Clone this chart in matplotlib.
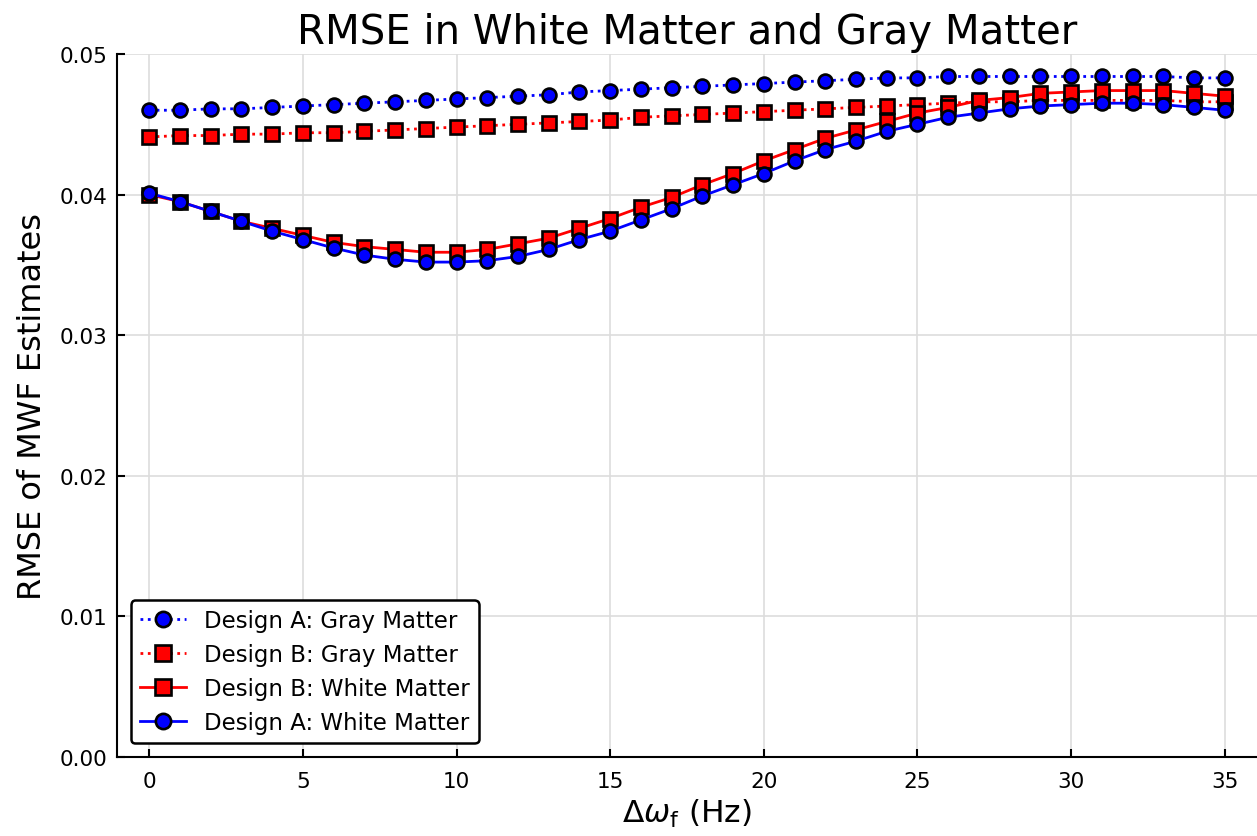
import numpy as np
import matplotlib
matplotlib.use("Agg")
import matplotlib.pyplot as plt

plt.rcParams['font.family'] = ['DejaVu Sans']
plt.rcParams['mathtext.fontset'] = 'dejavusans'

# frekans kaymasi (Hz)
delta_f = list(range(0, 36))

a_gray = [0.0460, 0.0460, 0.0461, 0.0461, 0.0462, 0.0463, 0.0464, 0.0465, 0.0466, 0.0467,
          0.0468, 0.0469, 0.0470, 0.0471, 0.0473, 0.0474, 0.0475, 0.0476, 0.0477, 0.0478,
          0.0479, 0.0480, 0.0481, 0.0482, 0.0483, 0.0483, 0.0484, 0.0484, 0.0484, 0.0484,
          0.0484, 0.0484, 0.0484, 0.0484, 0.0483, 0.0483]
b_gray = [0.0441, 0.0442, 0.0442, 0.0443, 0.0443, 0.0444, 0.0444, 0.0445, 0.0446, 0.0447,
          0.0448, 0.0449, 0.0450, 0.0451, 0.0452, 0.0453, 0.0455, 0.0456, 0.0457, 0.0458,
          0.0459, 0.0460, 0.0461, 0.0462, 0.0463, 0.0464, 0.0465, 0.0466, 0.0466, 0.0467,
          0.0467, 0.0467, 0.0467, 0.0467, 0.0466, 0.0466]
b_white = [0.0400, 0.0395, 0.0388, 0.0381, 0.0376, 0.0371, 0.0366, 0.0363, 0.0361, 0.0359,
           0.0359, 0.0361, 0.0365, 0.0369, 0.0376, 0.0383, 0.0391, 0.0398, 0.0407, 0.0415,
           0.0424, 0.0432, 0.0440, 0.0446, 0.0452, 0.0458, 0.0462, 0.0467, 0.0469, 0.0472,
           0.0473, 0.0474, 0.0474, 0.0474, 0.0472, 0.0470]
a_white = [0.0401, 0.0395, 0.0388, 0.0381, 0.0374, 0.0368, 0.0362, 0.0357, 0.0354, 0.0352,
           0.0352, 0.0353, 0.0356, 0.0361, 0.0368, 0.0374, 0.0382, 0.0390, 0.0399, 0.0407,
           0.0415, 0.0424, 0.0432, 0.0438, 0.0445, 0.0450, 0.0455, 0.0458, 0.0461, 0.0463,
           0.0464, 0.0465, 0.0465, 0.0464, 0.0462, 0.0460]

fig = plt.figure(figsize=(12.57, 8.37), dpi=100)
ax = fig.add_axes([117 / 1257, 1 - 758 / 837, (1257 - 117) / 1257, (758 - 55) / 837])

common = dict(markersize=10, markeredgecolor='black', markeredgewidth=1.9, linewidth=2)
ax.plot(delta_f, a_gray, color='blue', linestyle=':', marker='o', label='Design A: Gray Matter', **common)
ax.plot(delta_f, b_gray, color='red', linestyle=':', marker='s', label='Design B: Gray Matter', **common)
ax.plot(delta_f, b_white, color='red', linestyle='-', marker='s', label='Design B: White Matter', **common)
ax.plot(delta_f, a_white, color='blue', linestyle='-', marker='o', label='Design A: White Matter', **common)

ax.set_xlim(-1.05, 36.05)
ax.set_ylim(0, 0.05)
ax.set_xticks([0, 5, 10, 15, 20, 25, 30, 35])
ax.set_yticks([0.00, 0.01, 0.02, 0.03, 0.04, 0.05])
ax.set_yticklabels(['0.00', '0.01', '0.02', '0.03', '0.04', '0.05'])
ax.grid(True, color='#dddddd', linewidth=1.2)
ax.set_axisbelow(True)
for s in ['top', 'right']:
    ax.spines[s].set_visible(False)
for s in ['left', 'bottom']:
    ax.spines[s].set_linewidth(1.5)
ax.tick_params(direction='in', length=6, width=1.5, labelsize=15.5, pad=7)
ax.tick_params(axis='x', pad=10)

ax.set_title('RMSE in White Matter and Gray Matter', fontsize=29, pad=8)
ax.set_xlabel(r'$\Delta\omega_{\mathrm{f}}$ (Hz)', fontsize=22.5, labelpad=4)
ax.set_ylabel('RMSE of MWF Estimates', fontsize=23, labelpad=8)

leg = ax.legend(loc='lower left', fontsize=16.5, frameon=True, fancybox=True,
                edgecolor='black', framealpha=1, borderaxespad=0.6, labelspacing=0.48,
                markerscale=1.1)
leg.get_frame().set_linewidth(1.8)

fig.savefig('out.png', dpi=100)
